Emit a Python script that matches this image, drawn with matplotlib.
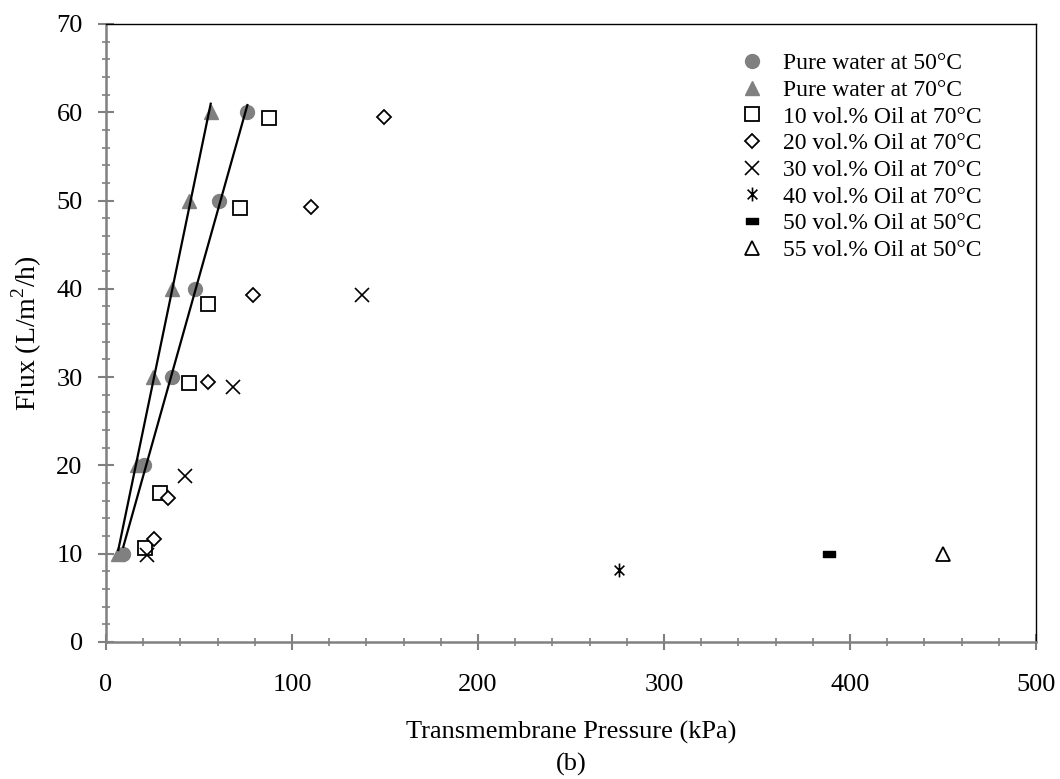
import matplotlib
matplotlib.use("Agg")
import matplotlib.pyplot as plt
import numpy as np
from matplotlib.path import Path
from matplotlib.ticker import MultipleLocator

plt.rcParams["font.family"] = ["Liberation Serif", "DejaVu Serif"]
plt.rcParams["mathtext.fontset"] = "custom"
plt.rcParams["mathtext.rm"] = "Liberation Serif"

# data (TMP in kPa, flux in L/m2/h)
water50_x = [9.3, 20.6, 35.3, 47.7, 60.6, 76.0]
water50_y = [10, 20, 30, 40, 50, 60]
water70_x = [6.6, 16.5, 25.1, 35.3, 44.8, 56.3]
water70_y = [10, 20, 30, 40, 50, 60]
oil10_x = [21.0, 29.0, 44.6, 54.7, 72.0, 87.6]
oil10_y = [10.6, 16.9, 29.3, 38.3, 49.2, 59.3]
oil20_x = [26.0, 33.5, 55.0, 78.9, 110.2, 149.5]
oil20_y = [11.7, 16.3, 29.4, 39.3, 49.3, 59.5]
oil30_x = [21.9, 42.5, 68.5, 137.6]
oil30_y = [9.8, 18.8, 28.9, 39.3]
oil40_x = [276.0]
oil40_y = [8.1]
oil50_x = [388.7]
oil50_y = [10.0]
oil55_x = [450.2]
oil55_y = [10.0]

GRAY = "#808080"
FS = 19

star = Path(
    [(0, -1), (0, 1), (-0.7, -0.7), (0.7, 0.7), (-0.7, 0.7), (0.7, -0.7)],
    [Path.MOVETO, Path.LINETO, Path.MOVETO, Path.LINETO, Path.MOVETO, Path.LINETO],
)
dash = Path(
    [(-1, -0.45), (1, -0.45), (1, 0.45), (-1, 0.45), (-1, -0.45)],
    [Path.MOVETO, Path.LINETO, Path.LINETO, Path.LINETO, Path.CLOSEPOLY],
)

fig = plt.figure(figsize=(10.6, 7.79), dpi=100)
ax = fig.add_axes([0.1, 0.1759, 0.8774, 0.7933])

ax.plot(water50_x, water50_y, "o", color=GRAY, markersize=10, label="Pure water at 50°C", zorder=3)
ax.plot(water70_x, water70_y, "^", color=GRAY, markersize=10, label="Pure water at 70°C", zorder=3)
ax.plot(oil10_x, oil10_y, "s", mfc="white", mec="black", mew=1.3, markersize=10,
        label="10 vol.% Oil at 70°C", linestyle="none", zorder=3)
ax.plot(oil20_x, oil20_y, "D", mfc="white", mec="black", mew=1.3, markersize=7,
        label="20 vol.% Oil at 70°C", linestyle="none", zorder=3)
ax.plot(oil30_x, oil30_y, "x", color="black", mew=1.2, markersize=10,
        label="30 vol.% Oil at 70°C", linestyle="none", zorder=3)
ax.plot(oil40_x, oil40_y, marker=star, color="black", mew=1.2, markersize=10,
        label="40 vol.% Oil at 70°C", linestyle="none", zorder=3)
ax.plot(oil50_x, oil50_y, marker=dash, color="black", markersize=9,
        label="50 vol.% Oil at 50°C", linestyle="none", zorder=3)
ax.plot(oil55_x, oil55_y, "^", mfc="white", mec="black", mew=1.3, markersize=10,
        label="55 vol.% Oil at 50°C", linestyle="none", zorder=3)

# linear trendlines through the pure water points
for xs, ys in [(water70_x, water70_y), (water50_x, water50_y)]:
    k, b = np.polyfit(xs, ys, 1)
    xx = np.array([min(xs), max(xs)])
    ax.plot(xx, k * xx + b, color="black", linewidth=1.6, zorder=4)

ax.set_xlim(0, 500)
ax.set_ylim(0, 70)
ax.xaxis.set_major_locator(MultipleLocator(100))
ax.xaxis.set_minor_locator(MultipleLocator(20))
ax.yaxis.set_major_locator(MultipleLocator(10))
ax.yaxis.set_minor_locator(MultipleLocator(2))

for side in ["left", "bottom"]:
    ax.spines[side].set_color(GRAY)
    ax.spines[side].set_linewidth(1.8)
for side in ["top", "right"]:
    ax.spines[side].set_color("black")
    ax.spines[side].set_linewidth(1.0)

ax.tick_params(which="major", direction="inout", length=11.5, width=1.5, color=GRAY,
               labelsize=FS)
ax.tick_params(which="minor", direction="inout", length=5.8, width=1.2, color=GRAY)
ax.tick_params(axis="x", which="major", pad=17)
ax.tick_params(axis="y", which="major", pad=11)
ax.tick_params(top=False, right=False, which="both")

ax.set_xlabel("Transmembrane Pressure (kPa)\n(b)", fontsize=FS, labelpad=18, linespacing=1.5)
ax.set_ylabel("Flux (L/m$^2$/h)", fontsize=20, labelpad=9)

ax.legend(loc="upper left", bbox_to_anchor=(0.672, 0.969), frameon=False, fontsize=17,
          handletextpad=0.8, labelspacing=0.22, borderaxespad=0, handlelength=1.0)

fig.savefig("out.png", dpi=100)
